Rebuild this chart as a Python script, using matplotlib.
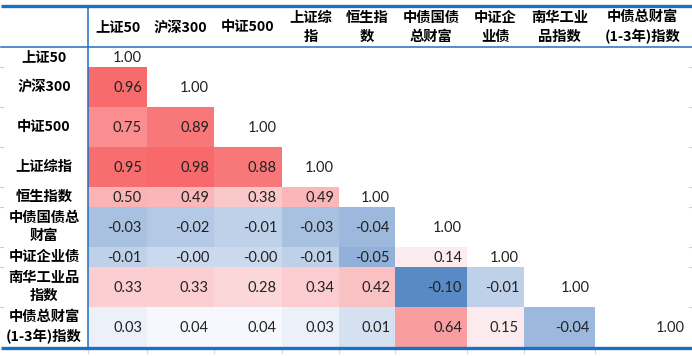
import numpy as np
import matplotlib
matplotlib.use("Agg")
import matplotlib.pyplot as plt
from matplotlib.colors import LinearSegmentedColormap, TwoSlopeNorm
from matplotlib.patches import Rectangle

# names of the indices (rows and columns)
row_labels = ["上证50", "沪深300", "中证500", "上证综指", "恒生指数",
              "中债国债总\n财富", "中证企业债", "南华工业品\n指数",
              "中债总财富\n(1-3年)指数"]
col_labels = ["上证50", "沪深300", "中证500", "上证综\n指", "恒生指\n数",
              "中债国债\n总财富", "中证企\n业债", "南华工业\n品指数",
              "中债总财富\n(1-3年)指数"]

# lower triangle of the correlation matrix, row by row
corr = [
    [1.00],
    [0.96, 1.00],
    [0.75, 0.89, 1.00],
    [0.95, 0.98, 0.88, 1.00],
    [0.50, 0.49, 0.38, 0.49, 1.00],
    [-0.03, -0.02, -0.01, -0.03, -0.04, 1.00],
    [-0.01, -0.00, -0.00, -0.01, -0.05, 0.14, 1.00],
    [0.33, 0.33, 0.28, 0.34, 0.42, -0.10, -0.01, 1.00],
    [0.03, 0.04, 0.04, 0.03, 0.01, 0.64, 0.15, -0.04, 1.00],
]

# layout in pixels
col_edges = np.array([0, 88, 147, 214, 282, 339, 395, 467, 524, 595, 690])
head_top, head_bot = 6, 47
row_h = np.array([20, 40, 40, 40, 20, 40, 20, 40, 40])
row_edges = head_bot + np.concatenate([[0], np.cumsum(row_h)])

blue_line = "#1F6FBF"
num_font = ["Lato", "DejaVu Sans"]
cjk_font = ["Noto Sans CJK SC", "DejaVu Sans"]

# excel style 3-colour scale (blue - white - red), off-diagonal cells only
off_diag = [v for r in corr for v in r[:-1]]
cmap = LinearSegmentedColormap.from_list("xl", ["#5A8AC6", "#FCFCFF", "#F8696B"])
norm = TwoSlopeNorm(vmin=min(off_diag), vcenter=0.045, vmax=max(off_diag))

fig = plt.figure(figsize=(6.92, 3.56), dpi=100)
ax = fig.add_axes([0, 0, 1, 1])
ax.set_xlim(0, 692)
ax.set_ylim(356, 0)
ax.axis("off")

for i, row in enumerate(corr):
    y0, y1 = row_edges[i], row_edges[i + 1]
    for j, v in enumerate(row):
        x0, x1 = col_edges[j + 1], col_edges[j + 2]
        if j < i:
            ax.add_patch(Rectangle((x0, y0), x1 - x0, y1 - y0,
                                   facecolor=cmap(norm(v)), edgecolor="none"))
        ax.text(x1 - 5, (y0 + y1) / 2 + 1, "{:.2f}".format(v), ha="right",
                va="center", fontsize=10.5, family=num_font, color="#222222")
    ax.text(col_edges[1] / 2, (y0 + y1) / 2, row_labels[i], ha="center",
            va="center", fontsize=10.3, family=cjk_font, fontweight="bold",
            linespacing=1.4)

for j, lab in enumerate(col_labels):
    xc = (col_edges[j + 1] + col_edges[j + 2]) / 2
    ax.text(xc, (head_top + head_bot) / 2 + 1, lab, ha="center", va="center",
            fontsize=10.3, family=cjk_font, fontweight="bold", linespacing=1.4)

# faint gridline stubs at the table edges
for y in row_edges[1:-1]:
    ax.plot([0, 3], [y, y], color="#D0D0D0", lw=0.8)
    ax.plot([689, 692], [y, y], color="#D0D0D0", lw=0.8)
for x in col_edges[1:-1]:
    ax.plot([x, x], [row_edges[-1] + 2, row_edges[-1] + 6], color="#D8D8D8", lw=0.8)

# table rules
ax.plot([1, 692], [head_top, head_top], color=blue_line, lw=2.4, solid_capstyle="butt")
ax.plot([1, 692], [head_bot, head_bot], color=blue_line, lw=1.1)
ax.plot([1, 692], [row_edges[-1] + 1, row_edges[-1] + 1], color=blue_line, lw=2.4,
        solid_capstyle="butt")
ax.plot([col_edges[1], col_edges[1]], [head_top, row_edges[-1]], color=blue_line, lw=1.1)

fig.savefig("out.png", dpi=100)
